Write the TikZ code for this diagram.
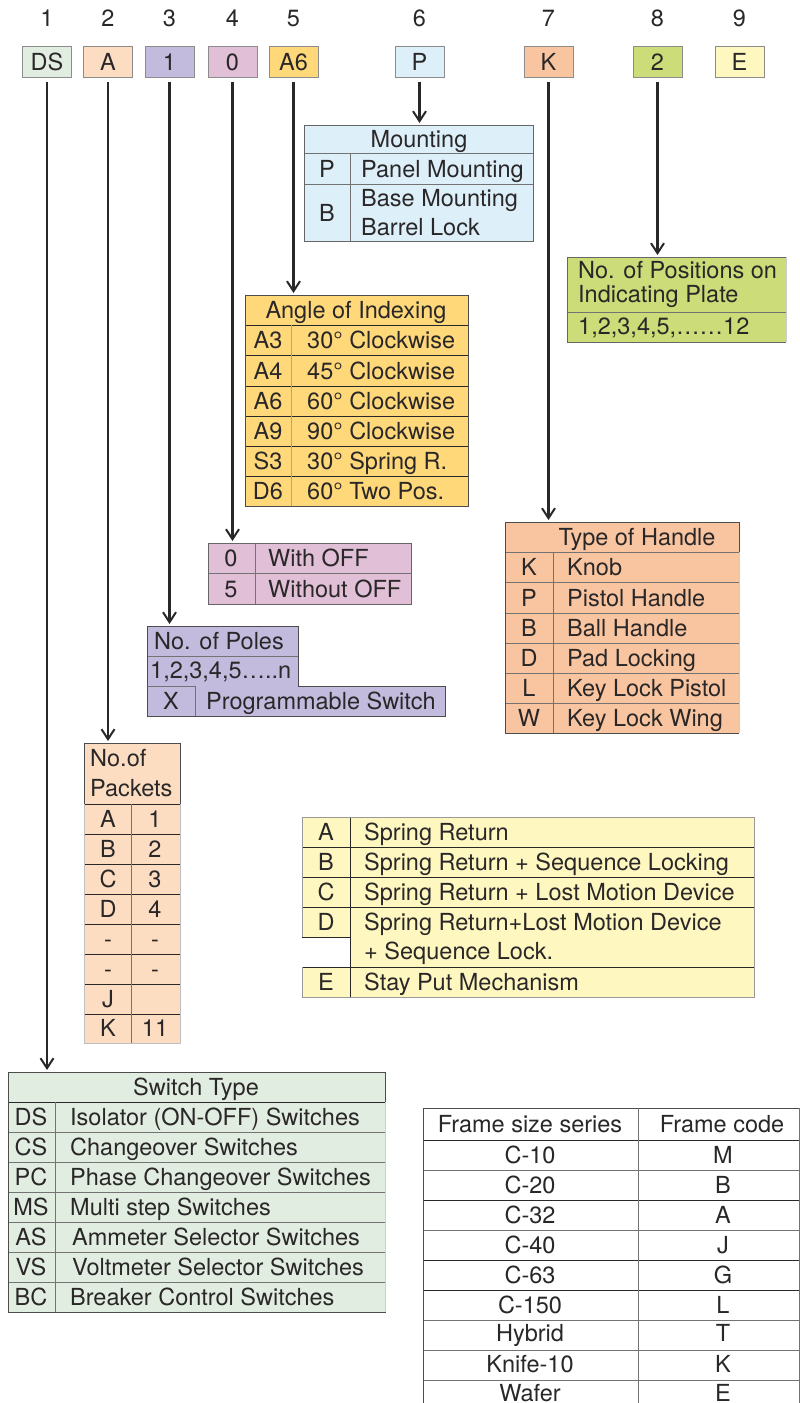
\documentclass[tikz,border=0pt]{standalone}
\usepackage{fontspec}
\setmainfont{TeX Gyre Heros}
\usetikzlibrary{arrows.meta}
\definecolor{cDS}{HTML}{E2EDE1}
\definecolor{cA}{HTML}{FCDDC1}
\definecolor{cOne}{HTML}{C3BBDD}
\definecolor{cZero}{HTML}{E0BFD7}
\definecolor{cAsix}{HTML}{FFD87A}
\definecolor{cP}{HTML}{DDEFF9}
\definecolor{cK}{HTML}{F8C5A0}
\definecolor{cTwo}{HTML}{CCDC78}
\definecolor{cE}{HTML}{FEF7C0}
\definecolor{ink}{HTML}{2A2728}
\begin{document}
\begin{tikzpicture}[x=1pt,y=-1pt,
  txt/.style={inner sep=0pt,text=ink,font=\fontsize{23.5}{28}\selectfont,anchor=base,yshift=-8.5pt},
  wtxt/.style={txt,anchor=base west},
  codebox/.style={draw=black!45,line width=0.8pt,minimum width=49pt,minimum height=31pt,inner sep=0pt,text=ink,font=\fontsize{23.5}{28}\selectfont},
  grid/.style={draw=ink,line width=0.9pt},
  thin/.style={draw=black!55,line width=0.7pt},
  arr/.style={draw=ink,line width=2.2pt,-{Straight Barb[length=10pt,width=13pt,line width=2pt]}}]
\useasboundingbox (0,0) rectangle (800,1403);
\fill[white] (0,0) rectangle (800,1403);
% numbers
\foreach \x/\n in {47/1,108/2,169.5/3,232.5/4,293.5/5,419.5/6,548.5/7,657.5/8,739.5/9}
  \node[txt] (num\n) at (\x,18) {\n};
% code boxes
\node[codebox,fill=cDS] (bDS) at (47,62) {DS};
\node[codebox,fill=cA] (bA) at (108,62) {A};
\node[codebox,fill=cOne] (bOne) at (169.5,62) {1};
\node[codebox,fill=cZero] (bZero) at (232.5,62) {0};
\node[codebox,fill=cAsix] (bAsix) at (293.5,62) {A6};
\node[codebox,fill=cP] (bP) at (419.5,62) {P};
\node[codebox,fill=cK] (bK) at (548.5,62) {K};
\node[codebox,fill=cTwo] (bTwo) at (657.5,62) {2};
\node[codebox,fill=cE] (bE) at (739.5,62) {E};

% ---------- Mounting ----------
\fill[cP] (304,125) rectangle (533,241);
\draw[thin] (304,153) -- (533,153) (304,184) -- (533,184) (350,153) -- (350,241);
\draw[grid,draw=black!60] (304,125) rectangle (533,241);
\node[txt] (mHead) at (419,139) {Mounting};
\node[txt] (mP) at (327,169) {P};
\node[wtxt] (mPt) at (361,169) {Panel Mounting};
\node[txt] (mB) at (327,213) {B};
\node[wtxt] (mBt) at (361,198) {Base Mounting};
\node[wtxt] (mBt2) at (361,227) {Barrel Lock};
\coordinate (mTop) at (419.5,123);

% ---------- Angle of Indexing ----------
\fill[cAsix] (245,295) rectangle (468,506);
\foreach \y in {325,355,386,416,446,476} \draw[grid,line width=0.8pt] (245,\y) -- (468,\y);
\draw[draw=black!35,line width=0.6pt] (291,325) -- (291,506);
\draw[grid,draw=black!70] (245,295) rectangle (468,506);
\node[txt] (aHead) at (356,310) {Angle of Indexing};
\foreach \y/\c/\t in {340/A3/30° Clockwise,370.5/A4/45° Clockwise,401/A6/60° Clockwise,431/A9/90° Clockwise,461/S3/30° Spring R.,491/D6/60° Two Pos.}{
  \node[txt] (ac\c) at (268,\y) {\c};
  \node[wtxt] (at\c) at (307,\y) {\t};
}
\coordinate (aTop) at (293.5,293);

% ---------- Positions ----------
\fill[cTwo] (567,257) rectangle (786,342);
\draw[thin] (567,312) -- (786,312);
\draw[grid,draw=black!60] (786,257) -- (567,257) -- (567,342) -- (786,342);
\draw[draw=black!20,line width=0.6pt] (786,257) -- (786,342);
\node[wtxt] (pL1) at (578,270) {No. of Positions on};
\node[wtxt] (pL2) at (578,294) {Indicating Plate};
\node[wtxt] (pL3) at (578,326) {1,2,3,4,5,……12};
\coordinate (pTop) at (657.5,255);

% ---------- With / Without OFF ----------
\fill[cZero] (208,543) rectangle (411,604);
\draw[thin] (208,573) -- (411,573) (255,543) -- (255,604);
\draw[grid,draw=black!60] (208,543) rectangle (411,604);
\node[txt] (oc0) at (231,558) {0};
\node[wtxt] (ot0) at (268,558) {With OFF};
\node[txt] (oc5) at (231,589) {5};
\node[wtxt] (ot5) at (268,589) {Without OFF};
\coordinate (oTop) at (232.5,541);

% ---------- Poles ----------
\fill[cOne] (147,626) rectangle (298,686);
\fill[cOne] (147,686) rectangle (445,716);
\draw[thin] (147,656) -- (298,656) (195,686) -- (195,716);
\draw[grid,draw=black!70] (147,626) -- (298,626) -- (298,686) -- (445,686) -- (445,716) -- (147,716) -- cycle;
\draw[thin] (147,686) -- (195,686);
\node[wtxt] (poH) at (154,641) {No. of Poles};
\node[wtxt] (poN) at (150,670) {1,2,3,4,5…..n};
\node[txt] (poX) at (171,701) {X};
\node[wtxt] (poXt) at (206,701) {Programmable Switch};
\coordinate (poTop) at (169.5,624);

% ---------- Type of Handle ----------
\fill[cK] (505,522) rectangle (739,733);
\foreach \y in {552,582,613,643,673,703} \draw[thin] (505,\y) -- (739,\y);
\draw[thin] (553,552) -- (553,733);
\draw[grid,draw=black!70] (739,552) -- (739,522) -- (505,522) -- (505,733) -- (739,733);
\draw[draw=black!20,line width=0.6pt] (739,552) -- (739,733);
\node[txt] (hHead) at (637,537) {Type of Handle};
\foreach \y/\c/\t in {567/K/Knob,597.5/P/Pistol Handle,628/B/Ball Handle,658/D/Pad Locking,688/L/Key Lock Pistol,718/W/Key Lock Wing}{
  \node[txt] (hc\c) at (529,\y) {\c};
  \node[wtxt] (ht\c) at (567,\y) {\t};
}
\coordinate (hTop) at (548.5,520);

% ---------- Packets ----------
\fill[cA] (84,743) rectangle (180,1043);
\foreach \y in {804,834,864,894,924,954,984,1014} \draw[grid,line width=0.8pt] (84,\y) -- (180,\y);
\draw[thin] (131,804) -- (131,1043);
\draw[grid,draw=black!70] (84,804) -- (84,743) -- (180,743) -- (180,804);
\draw[draw=black!25,line width=0.6pt] (84,804) -- (84,1043) -- (180,1043) -- (180,804);
\node[wtxt] (kH1) at (90,758) {No.of};
\node[wtxt] (kH2) at (90,788) {Packets};
\foreach \i/\y/\c/\v in {1/819/A/1,2/849/B/2,3/879/C/3,4/909/D/4,5/939/-/-,6/969/-/-,7/999/J/{},8/1028/K/11}{
  \node[txt] (kc\i) at (108,\y) {\c};
  \node[txt] (kv\i) at (155,\y) {\v};
}
\coordinate (kTop) at (108,741);

% ---------- Spring Return ----------
\fill[cE] (302,817) rectangle (754,937);
\fill[cE] (350,937) rectangle (754,997);
\fill[cE] (302,967) rectangle (350,997);
\foreach \y in {847,877,907,967} \draw[grid,line width=0.8pt] (302,\y) -- (754,\y);
\draw[grid,line width=0.8pt] (302,937) -- (350,937);
\draw[grid,line width=0.8pt] (350,817) -- (350,997);
\draw[grid,draw=black!40,line width=0.7pt] (302,817) -- (754,817) -- (754,997) -- (302,997);
\draw[grid,draw=black!40,line width=0.7pt] (302,817) -- (302,937) (302,967) -- (302,997);
\node[txt] (sA) at (326,832) {A};
\node[wtxt] (sAt) at (364,832) {Spring Return};
\node[txt] (sB) at (326,862) {B};
\node[wtxt] (sBt) at (364,862) {Spring Return + Sequence Locking};
\node[txt] (sC) at (326,892) {C};
\node[wtxt] (sCt) at (364,892) {Spring Return + Lost Motion Device};
\node[txt] (sD) at (326,922) {D};
\node[wtxt] (sDt) at (364,922) {Spring Return+Lost Motion Device};
\node[wtxt] (sDt2) at (364,951) {+ Sequence Lock.};
\node[txt] (sE) at (326,982) {E};
\node[wtxt] (sEt) at (364,982) {Stay Put Mechanism};

% ---------- Switch Type ----------
\fill[cDS] (8,1072) rectangle (385,1312);
\foreach \y in {1102,1132,1162,1192,1222,1252,1282} \draw[thin] (8,\y) -- (385,\y);
\draw[grid,line width=0.9pt] (8,1102) -- (385,1102);
\draw[thin] (55,1102) -- (55,1312);
\draw[grid,draw=black!70] (8,1072) rectangle (385,1312);
\draw[draw=black!20,line width=0.6pt] (385,1102) -- (385,1312);
\node[txt] (tHead) at (196,1087) {Switch Type};
\foreach \y/\c/\t/\xx in {1117/DS/Isolator (ON-OFF) Switches/70,1147/CS/Changeover Switches/70,1177/PC/Phase Changeover Switches/70,1207/MS/Multi step Switches/70,1237/AS/Ammeter Selector Switches/72,1267/VS/Voltmeter Selector Switches/72,1297/BC/Breaker Control Switches/70}{
  \node[txt] (tc\c) at (31,\y) {\c};
  \node[wtxt] (tt\c) at (\xx,\y) {\t};
}
\coordinate (tTop) at (47,1070);

% ---------- Frame table ----------
\foreach \y in {1140,1200,1260,1290} \draw[grid,line width=0.8pt] (423,\y) -- (800,\y);
\foreach \y in {1170,1230,1320,1350,1380} \draw[thin] (423,\y) -- (800,\y);
\draw[grid,draw=black!70] (800,1108) -- (423,1108) -- (423,1403);
\draw[thin] (638,1108) -- (638,1403) (799.5,1108) -- (799.5,1403);
\node[txt] (fH1) at (530,1124) {Frame size series};
\node[txt] (fH2) at (722,1124) {Frame code};
\foreach \i/\y/\s/\c in {1/1155/C-10/M,2/1185/C-20/B,3/1215/C-32/A,4/1245/C-40/J,5/1275/C-63/G,6/1305/C-150/L,7/1333/Hybrid/T,8/1364/Knife-10/K,9/1393/Wafer/E}{
  \node[txt] (fs\i) at (530,\y) {\s};
  \node[txt] (fc\i) at (723,\y) {\c};
}

% ---------- arrows ----------
\draw[arr] ([yshift=-4pt]bDS.south) -- (tTop);
\draw[arr] ([yshift=-4pt]bA.south) -- (kTop);
\draw[arr] ([yshift=-4pt]bOne.south) -- (poTop);
\draw[arr] ([yshift=-4pt]bZero.south) -- (oTop);
\draw[arr] ([yshift=-4pt]bAsix.south) -- (aTop);
\draw[arr] ([yshift=-4pt]bP.south) -- (mTop);
\draw[arr] ([yshift=-4pt]bK.south) -- (hTop);
\draw[arr] ([yshift=-4pt]bTwo.south) -- (pTop);
\end{tikzpicture}
\end{document}
